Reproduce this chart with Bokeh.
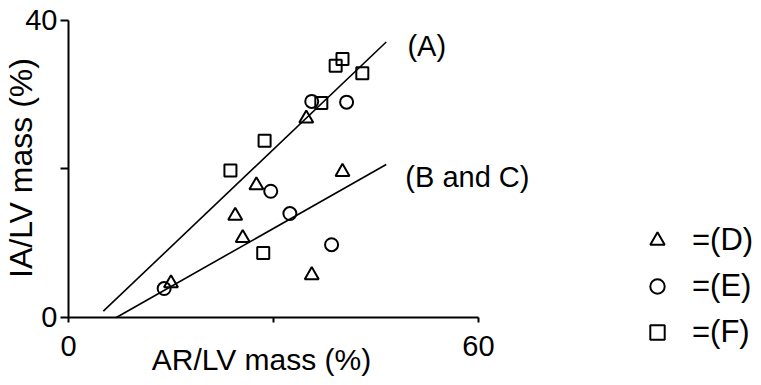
import math
from bokeh.plotting import figure
from bokeh.models import Range1d, FixedTicker, Label, Legend, LegendItem
from bokeh.embed import file_html
from bokeh.resources import INLINE

# AR/LV mass (%) vs IA/LV mass (%) for the three groups
d_x = [34.8, 40.1, 27.5, 24.4, 25.5, 35.6, 15.0]
d_y = [26.8, 19.6, 17.8, 13.7, 10.7, 5.7, 4.6]

e_x = [35.6, 40.7, 29.6, 32.4, 38.5, 14.0]
e_y = [29.1, 29.0, 17.0, 14.0, 9.8, 3.9]

f_x = [39.1, 40.1, 43.0, 37.0, 28.7, 23.7, 28.5]
f_y = [33.9, 34.8, 32.9, 28.9, 23.8, 19.8, 8.7]

# fitted lines, end points
fit_a_x = [5.1, 46.5]
fit_a_y = [0.85, 37.1]
fit_bc_x = [7.0, 46.5]
fit_bc_y = [0.0, 20.6]

x_ticks = [0, 30, 60]
y_ticks = [0, 20, 40]
x_tick_labels = {0: "0", 30: "", 60: "60"}
y_tick_labels = {0: "0", 20: "", 40: "40"}

FONT = "Liberation Sans"

# The frame fills the whole canvas; the axes sit at x=0 / y=0 inside it so
# that the line names and the key on the right have room.
p = figure(width=761, height=385,
           x_range=Range1d(-9.95, 101.42), y_range=Range1d(-9.16, 42.69),
           output_backend="svg", toolbar_location=None,
           min_border_left=0, min_border_right=0,
           min_border_top=0, min_border_bottom=0)
p.grid.visible = False
p.outline_line_color = None
p.background_fill_color = "white"
p.border_fill_color = "white"

for ax in (p.xaxis[0], p.yaxis[0]):
    ax.fixed_location = 0
    ax.axis_line_width = 2
    ax.axis_line_color = "black"
    ax.major_tick_line_width = 2
    ax.major_tick_line_color = "black"
    ax.minor_tick_line_color = None
    ax.major_tick_in = 0
    ax.major_label_text_font = FONT
    ax.major_label_text_font_size = "29px"
    ax.major_label_text_color = "black"

p.xaxis.bounds = (0, 60)
p.xaxis.ticker = FixedTicker(ticks=x_ticks)
p.xaxis.major_label_overrides = x_tick_labels
p.xaxis.major_tick_out = 5
p.xaxis.major_label_standoff = 14

p.yaxis.bounds = (0, 40)
p.yaxis.ticker = FixedTicker(ticks=y_ticks)
p.yaxis.major_label_overrides = y_tick_labels
p.yaxis.major_tick_out = 8
p.yaxis.major_label_standoff = 3

# axis titles
p.add_layout(Label(x=28.25, y=-5.66, text="AR/LV mass (%)", text_font=FONT,
                   text_font_size="30px", text_align="center", text_baseline="middle",
                   text_color="black"))
p.add_layout(Label(x=-6.88, y=20.13, text="IA/LV mass (%)", text_font=FONT,
                   text_font_size="32px", text_align="center", text_baseline="middle",
                   text_color="black", angle=math.pi / 2))

# fitted lines
p.line(fit_a_x, fit_a_y, line_color="black", line_width=1.6)
p.line(fit_bc_x, fit_bc_y, line_color="black", line_width=1.6)

marker_style = dict(fill_color=None, line_color="black", line_width=2)
r_d = p.scatter(d_x, d_y, marker="triangle", size=14, **marker_style)
r_e = p.scatter(e_x, e_y, marker="circle", size=13, **marker_style)
r_f = p.scatter(f_x, f_y, marker="square", size=12, **marker_style)

# line names
for text, lx, ly in (("(A)", 49.6, 36.6), ("(B and C)", 49.3, 18.9)):
    p.add_layout(Label(x=lx, y=ly, text=text, text_font=FONT, text_font_size="29px",
                       text_align="left", text_baseline="middle", text_color="black"))

legend = Legend(items=[LegendItem(label="=(D)", renderers=[r_d]),
                       LegendItem(label="=(E)", renderers=[r_e]),
                       LegendItem(label="=(F)", renderers=[r_f])],
                location=(639, 35), orientation="vertical",
                glyph_width=36, glyph_height=36, label_height=36,
                spacing=10, label_standoff=17, padding=0, margin=0,
                border_line_color=None, background_fill_alpha=0,
                label_text_font=FONT, label_text_font_size="31px",
                label_text_color="black", label_text_baseline="middle")
p.add_layout(legend, "center")

open("out.html", "w").write(file_html(p, INLINE))
